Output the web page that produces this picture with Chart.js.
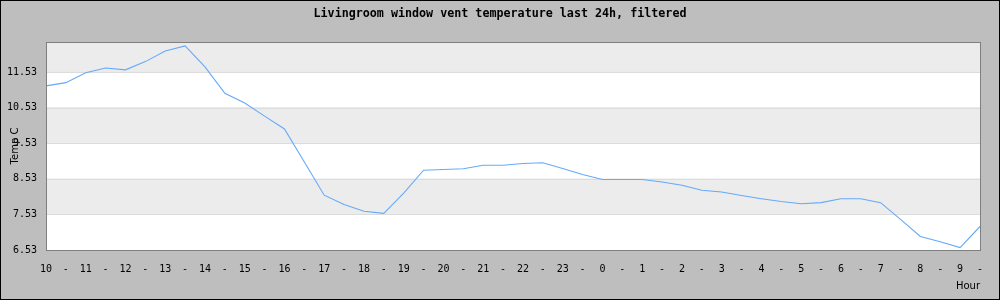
<!DOCTYPE html>
<html>
<head>
<meta charset="utf-8">
<script src="https://cdn.jsdelivr.net/npm/chart.js@4/dist/chart.umd.min.js"></script>
<style>
  body { margin: 0; background: #bebebe; }
  #wrap { width: 1000px; height: 300px; position: relative; }
</style>
</head>
<body>
<div id="wrap"><canvas id="c"></canvas></div>
<script>
// hour labels, one "-" between each hour
var hours = ['10','11','12','13','14','15','16','17','18','19','20','21','22','23','0','1','2','3','4','5','6','7','8','9'];
var xLabels = [];
for (var i = 0; i < hours.length; i++) {
    xLabels.push(hours[i]);
    xLabels.push('-');
}

// filtered temperature, one point per label
var temps = [
    11.14, 11.23, 11.51, 11.64, 11.59, 11.82, 12.12, 12.26, 11.67, 10.93,
    10.66, 10.29, 9.93, 9.00, 8.07, 7.81, 7.62, 7.56, 8.13, 8.77,
    8.79, 8.81, 8.91, 8.91, 8.96, 8.98, 8.82, 8.65, 8.51, 8.51,
    8.51, 8.44, 8.35, 8.21, 8.16, 8.06, 7.97, 7.89, 7.83, 7.86,
    7.97, 7.97, 7.86, 7.39, 6.91, 6.76, 6.60, 7.19
];

var yTicks = [6.53, 7.53, 8.53, 9.53, 10.53, 11.53];
var yMin = 6.53;
var yMax = 12.37;

var title = 'Livingroom window vent temperature last 24h, filtered';

// background, outer frame, alternating bands and plot border
var framePlugin = {
    id: 'frame',
    beforeDraw: function(chart) {
        var ctx = chart.ctx;
        ctx.save();
        ctx.fillStyle = '#bebebe';
        ctx.fillRect(0, 0, chart.width, chart.height);
        ctx.restore();
    },
    beforeDatasetsDraw: function(chart) {
        var ctx = chart.ctx, a = chart.chartArea, y = chart.scales.y;
        var edges = yTicks.concat([yMax]);
        ctx.save();
        for (var i = 0; i < edges.length - 1; i++) {
            var top = y.getPixelForValue(edges[i + 1]);
            var bot = y.getPixelForValue(edges[i]);
            ctx.fillStyle = (i % 2 === 0) ? '#ffffff' : '#ececec';
            ctx.fillRect(a.left, top, a.right - a.left, bot - top);
        }
        ctx.strokeStyle = '#dcdcdc';
        ctx.lineWidth = 1;
        for (var j = 1; j < yTicks.length; j++) {
            var py = Math.round(y.getPixelForValue(yTicks[j])) + 0.5;
            ctx.beginPath();
            ctx.moveTo(a.left, py);
            ctx.lineTo(a.right, py);
            ctx.stroke();
        }
        ctx.restore();
    },
    afterDatasetsDraw: function(chart) {
        var ctx = chart.ctx, a = chart.chartArea;
        ctx.save();
        ctx.strokeStyle = '#7f7f7f';
        ctx.lineWidth = 1;
        ctx.strokeRect(Math.round(a.left) + 0.5, Math.round(a.top) + 0.5,
                       Math.round(a.right - a.left), Math.round(a.bottom - a.top));
        ctx.restore();
    },
    afterDraw: function(chart) {
        var ctx = chart.ctx;
        ctx.save();
        ctx.strokeStyle = '#000000';
        ctx.lineWidth = 1;
        ctx.strokeRect(0.5, 0.5, chart.width - 1, chart.height - 1);
        ctx.restore();
    }
};

new Chart(document.getElementById('c'), {
    type: 'line',
    data: {
        labels: xLabels,
        datasets: [{
            data: temps,
            borderColor: 'rgb(100,170,250)',
            borderWidth: 1.1,
            pointRadius: 0,
            tension: 0,
            fill: false
        }]
    },
    options: {
        responsive: true,
        maintainAspectRatio: false,
        animation: false,
        layout: { padding: 0 },
        plugins: {
            legend: { display: false },
            tooltip: { enabled: false },
            title: {
                display: true,
                text: title,
                color: '#000',
                font: { family: 'DejaVu Sans Mono', size: 11.7, weight: 'bold', lineHeight: 1.2 },
                padding: { top: 7, bottom: 21 }
            }
        },
        scales: {
            x: {
                type: 'category',
                offset: false,
                grid: { display: false, drawTicks: false },
                border: { display: false },
                ticks: {
                    autoSkip: false,
                    maxRotation: 0,
                    minRotation: 0,
                    padding: 13,
                    color: '#000',
                    font: { family: 'DejaVu Sans Mono', size: 10 }
                },
                title: {
                    display: true,
                    text: 'Hour',
                    align: 'end',
                    color: '#000',
                    font: { family: 'DejaVu Sans', size: 10 },
                    padding: { top: 0, bottom: 8 }
                },
                afterFit: function(s) { s.height = 50; }
            },
            y: {
                min: yMin,
                max: yMax,
                grid: { display: false, drawTicks: false },
                border: { display: false },
                afterBuildTicks: function(s) {
                    s.ticks = yTicks.map(function(v) { return { value: v }; });
                },
                ticks: {
                    padding: 9,
                    color: '#000',
                    font: { family: 'DejaVu Sans Mono', size: 10 },
                    callback: function(v) { return Number(v).toFixed(2); }
                },
                title: {
                    display: true,
                    text: 'Temp C',
                    color: '#000',
                    font: { family: 'DejaVu Sans', size: 10 },
                    padding: { top: 9, bottom: 0 }
                },
                afterFit: function(s) { s.width = 46; }
            },
            // empty right margin so the title stays centred on the whole canvas
            yRight: {
                position: 'right',
                min: yMin,
                max: yMax,
                grid: { display: false, drawTicks: false },
                border: { display: false },
                ticks: { display: false },
                afterFit: function(s) { s.width = 20; }
            }
        }
    },
    plugins: [framePlugin]
});
</script>
</body>
</html>
